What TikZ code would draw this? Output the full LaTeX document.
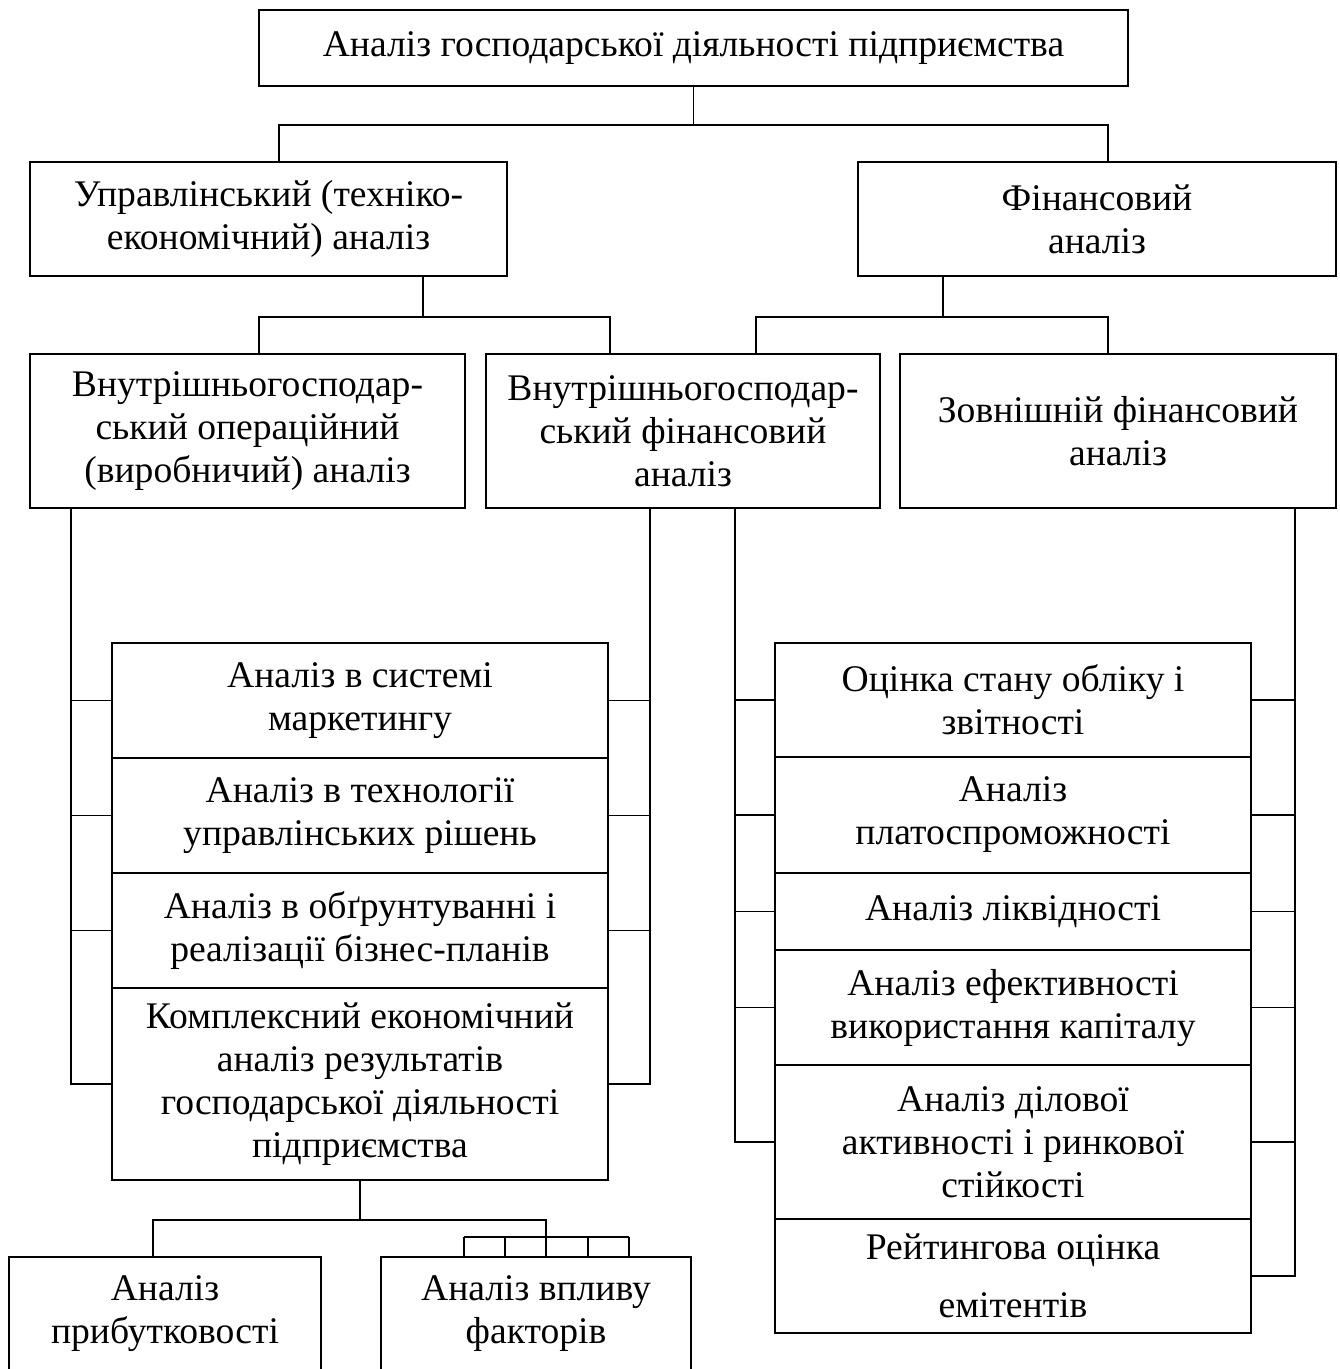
\documentclass[tikz,border=0pt]{standalone}
\usepackage{fontspec}
\setmainfont{Liberation Serif}
\begin{document}
\begin{tikzpicture}[x=1pt,y=-1pt,
  boxn/.style={draw, line width=2pt, inner sep=0pt, align=center, font=\fontsize{37.6}{43}\selectfont},
  conn/.style={line width=1.9pt}]
\useasboundingbox (0,0) rectangle (1340,1369);
\clip (0,0) rectangle (1340,1369);
% level 0
\node[boxn, minimum width=869pt, minimum height=76pt] (top) at (693.5,48) {Аналіз господарської діяльності підприємства};
% level 1
\node[boxn, minimum width=477pt, minimum height=114pt] (upr) at (268.5,219) {Управлінський (техніко-\\економічний) аналіз};
\node[boxn, minimum width=478pt, minimum height=114pt] (fin) at (1097,219) {Фінансовий\\аналіз};
% level 2
\node[boxn, minimum width=435pt, minimum height=154pt] (vo) at (247.5,431) {Внутрішньогосподар-\\ський операційний\\(виробничий) аналіз};
\node[boxn, minimum width=394pt, minimum height=154pt] (vf) at (683,431) {Внутрішньогосподар-\\ський фінансовий\\аналіз};
\node[boxn, minimum width=436pt, minimum height=154pt] (zov) at (1118,431) {Зовнішній фінансовий\\аналіз};
% left stack
\node[boxn, minimum width=496pt, minimum height=115pt] (L1) at (360,700.5) {Аналіз в системі\\маркетингу};
\node[boxn, minimum width=496pt, minimum height=115pt] (L2) at (360,815.5) {Аналіз в технології\\управлінських рішень};
\node[boxn, minimum width=496pt, minimum height=115pt] (L3) at (360,930.5) {Аналіз в обґрунтуванні і\\реалізації бізнес-планів};
\node[boxn, minimum width=496pt, minimum height=192pt] (L4) at (360,1084) {Комплексний економічний\\аналіз результатів\\господарської діяльності\\підприємства};
% right stack
\node[boxn, minimum width=476pt, minimum height=114pt] (R1) at (1013,700) {Оцінка стану обліку і\\звітності};
\node[boxn, minimum width=476pt, minimum height=116pt] (R2) at (1013,815) {Аналіз\\платоспроможності};
\node[boxn, minimum width=476pt, minimum height=77pt] (R3) at (1013,911.5) {Аналіз ліквідності};
\node[boxn, minimum width=476pt, minimum height=115pt] (R4) at (1013,1007.5) {Аналіз ефективності\\використання капіталу};
\node[boxn, minimum width=476pt, minimum height=154pt] (R5) at (1013,1142) {Аналіз ділової\\активності і ринкової\\стійкості};
\node[boxn, minimum width=476pt, minimum height=114pt] (R6) at (1013,1276) {Рейтингова оцінка\\[15pt]емітентів};
% bottom
\node[boxn, minimum width=312pt, minimum height=114pt] (B1) at (165,1314) {Аналіз\\прибутковості};
\node[boxn, minimum width=310pt, minimum height=114pt] (B2) at (536,1314) {Аналіз впливу\\факторів};

% connectors level 0 -> 1
\draw[conn] (top.south) -- ++(0,38) coordinate (j1);
\draw[conn] ([xshift=10.5pt]upr.north) |- (j1) -| ([xshift=11pt]fin.north);
% level 1 -> 2
\draw[conn] ([xshift=154.5pt]upr.south) -- ++(0,40) coordinate (j2);
\draw[conn] ([xshift=11.5pt]vo.north) |- (j2) -| ([xshift=-73pt]vf.north);
\draw[conn] ([xshift=-154pt]fin.south) -- ++(0,40) coordinate (j3);
\draw[conn] ([xshift=73pt]vf.north) |- (j3) -| ([xshift=-10pt]zov.north);
% left stack brackets
\coordinate (lb) at ([xshift=-176.5pt]vo.south);
\draw[conn] (lb) |- (L4.west);
\foreach \r in {L1,L2,L3} \draw[conn] (\r.west) -- (\r.west -| lb);
\coordinate (lr) at ([xshift=-33pt]vf.south);
\draw[conn] (lr) |- (L4.east);
\foreach \r in {L1,L2,L3} \draw[conn] (\r.east) -- (\r.east -| lr);
% right stack brackets
\coordinate (rl) at ([xshift=52pt]vf.south);
\draw[conn] (rl) |- (R5.west);
\foreach \r in {R1,R2,R3,R4} \draw[conn] (\r.west) -- (\r.west -| rl);
\coordinate (rr) at ([xshift=177pt]zov.south);
\draw[conn] (rr) |- (R6.east);
\foreach \r in {R1,R2,R3,R4,R5} \draw[conn] (\r.east) -- (\r.east -| rr);
% bottom connectors
\draw[conn] (L4.south) -- ++(0,39) coordinate (j4);
\coordinate (cb) at ([yshift=19pt]B2.north);
\draw[conn] ([xshift=-12pt]B1.north) |- (j4) -| ([xshift=10pt]cb);
\draw[conn] ([xshift=-72pt]cb) -- ([xshift=93pt]cb);
\foreach \d in {-72,-31,10,52,93} \draw[conn] ([xshift=\d pt]cb) -- ([xshift=\d pt]B2.north);
\end{tikzpicture}
\end{document}
